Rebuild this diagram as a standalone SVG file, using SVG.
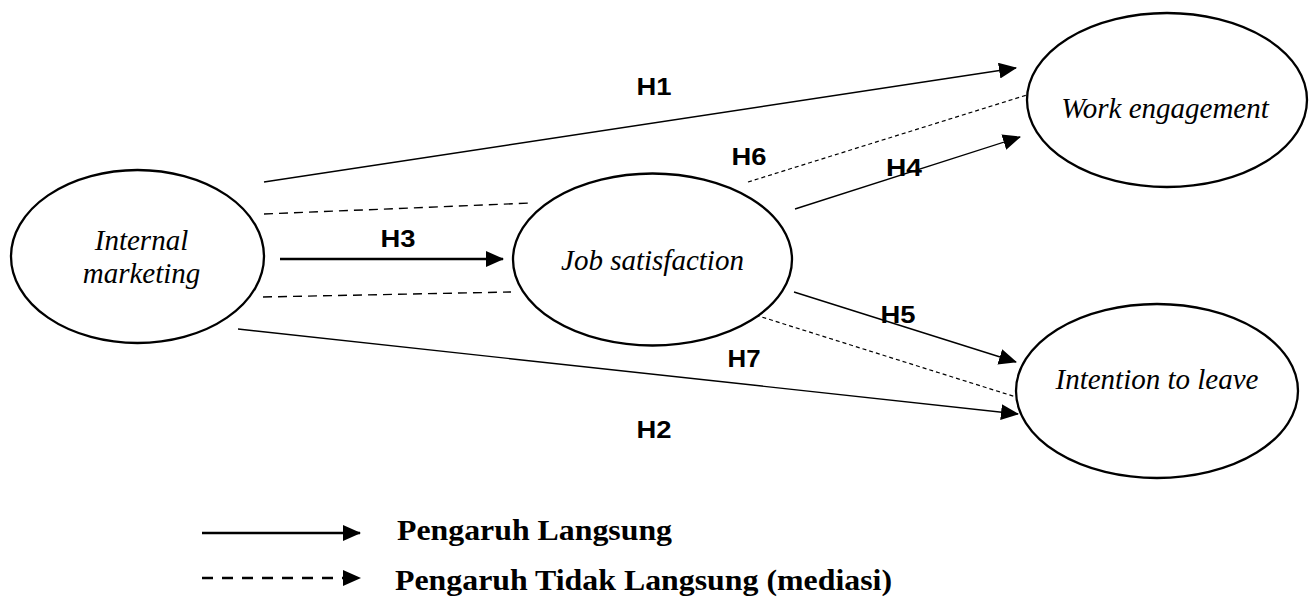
<svg xmlns="http://www.w3.org/2000/svg" width="1313" height="599" viewBox="0 0 1313 599">
<style>
.node{fill:#fff;stroke:#000;stroke-width:2.3}
.nt{font-family:"Liberation Serif","Times New Roman",serif;font-style:italic;font-size:29px;fill:#000;text-anchor:middle}
.hl{font-family:"Liberation Sans",Arial,sans-serif;font-weight:bold;font-size:24px;fill:#000;text-anchor:middle}
.lt{font-family:"Liberation Serif","Times New Roman",serif;font-weight:bold;font-size:29px;fill:#000}
.d{stroke:#000;stroke-width:1.4;fill:none}
.ds{stroke:#000;stroke-width:1.4;fill:none;stroke-dasharray:9 6}
.df{stroke:#000;stroke-width:1.2;fill:none;stroke-dasharray:4 3}
</style>
<defs>
<marker id="ah" markerUnits="userSpaceOnUse" markerWidth="18" markerHeight="16" viewBox="0 0 18 16" refX="17" refY="8" orient="auto">
<path d="M0,0 L18,8 L0,16 Z" fill="#000"/>
</marker>
</defs>
<g id="connectors">
<line class="d" x1="264" y1="182" x2="1016" y2="68" marker-end="url(#ah)"/>
<line class="ds" x1="264" y1="214" x2="532" y2="203"/>
<line x1="280" y1="259" x2="503" y2="259" stroke="#000" stroke-width="2.6" marker-end="url(#ah)"/>
<line class="ds" x1="263" y1="297" x2="511" y2="292"/>
<line class="d" x1="238" y1="329" x2="1018" y2="414" marker-end="url(#ah)"/>
<line class="df" x1="748" y1="182" x2="1030" y2="94"/>
<line class="d" x1="795" y1="209" x2="1020" y2="137" marker-end="url(#ah)"/>
<line class="d" x1="794" y1="292" x2="1016" y2="362" marker-end="url(#ah)"/>
<line class="df" x1="749" y1="313" x2="1016" y2="397"/>
<text class="hl" x="654" y="95" textLength="35" lengthAdjust="spacingAndGlyphs">H1</text>
<text class="hl" x="398" y="247" textLength="35" lengthAdjust="spacingAndGlyphs">H3</text>
<text class="hl" x="749" y="165" textLength="35" lengthAdjust="spacingAndGlyphs">H6</text>
<text class="hl" x="904" y="176" textLength="36" lengthAdjust="spacingAndGlyphs">H4</text>
<text class="hl" x="898" y="323" textLength="35" lengthAdjust="spacingAndGlyphs">H5</text>
<text class="hl" x="744" y="367" textLength="33" lengthAdjust="spacingAndGlyphs">H7</text>
<text class="hl" x="654" y="438" textLength="35" lengthAdjust="spacingAndGlyphs">H2</text>
</g>
<g id="internal-marketing">
<ellipse class="node" cx="137.5" cy="256.5" rx="126.5" ry="86.5"/>
<text class="nt" x="141.5" y="250">Internal</text>
<text class="nt" x="141.5" y="283">marketing</text>
</g>
<g id="job-satisfaction">
<ellipse class="node" cx="652.5" cy="259.5" rx="139.5" ry="86"/>
<text class="nt" x="652.5" y="270">Job satisfaction</text>
</g>
<g id="work-engagement">
<ellipse class="node" cx="1167" cy="100" rx="140" ry="87"/>
<text class="nt" x="1165" y="118">Work engagement</text>
</g>
<g id="intention-to-leave">
<ellipse class="node" cx="1157" cy="391" rx="141" ry="87"/>
<text class="nt" x="1157" y="389">Intention to leave</text>
</g>
<g id="legend">
<line x1="202" y1="533" x2="360" y2="533" stroke="#000" stroke-width="2.6" marker-end="url(#ah)"/>
<line x1="202" y1="578" x2="360" y2="578" stroke="#000" stroke-width="2.6" stroke-dasharray="11 9" marker-end="url(#ah)"/>
<text class="lt" x="397" y="540" textLength="275" lengthAdjust="spacingAndGlyphs">Pengaruh Langsung</text>
<text class="lt" x="395" y="590" textLength="497" lengthAdjust="spacingAndGlyphs">Pengaruh Tidak Langsung (mediasi)</text>
</g>
</svg>
